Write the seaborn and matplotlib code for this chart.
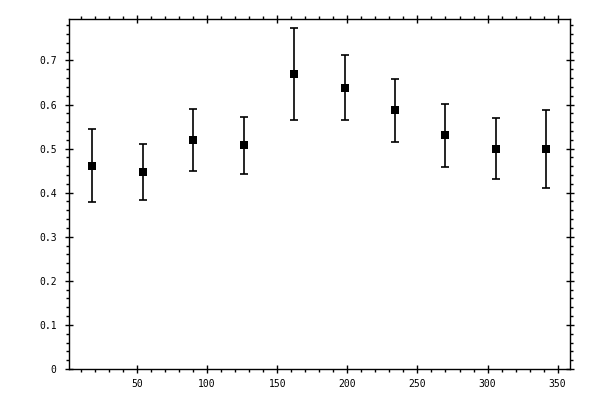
import numpy as np
import pandas as pd
import seaborn as sns
import matplotlib
matplotlib.use("Agg")
import matplotlib.pyplot as plt
from matplotlib.ticker import MultipleLocator, FuncFormatter

# degerler
x_vals = [18, 54, 90, 126, 162, 198, 234, 270, 306, 342]
y_vals = [0.461, 0.447, 0.519, 0.508, 0.669, 0.637, 0.587, 0.531, 0.499, 0.499]
y_low = [0.379, 0.383, 0.449, 0.442, 0.565, 0.565, 0.515, 0.458, 0.432, 0.411]
y_high = [0.545, 0.510, 0.590, 0.571, 0.773, 0.712, 0.659, 0.601, 0.569, 0.587]

df = pd.DataFrame({"x": x_vals, "y": y_vals, "lo": y_low, "hi": y_high})

sns.set_style("white")
plt.rcParams['font.family'] = ['DejaVu Sans Mono', 'DejaVu Sans']

fig = plt.figure(figsize=(6, 4), dpi=100)
ax = fig.add_axes([0.115, 0.0775, 0.835, 0.875])

yerr = np.array([df.y - df.lo, df.hi - df.y])
ax.errorbar(df.x, df.y, yerr=yerr, fmt='none', ecolor='black',
            elinewidth=1.2, capsize=2.8, capthick=1.2, zorder=2)
sns.scatterplot(x='x', y='y', data=df, marker='s', s=38, color='black',
                edgecolor='black', linewidth=0, ax=ax, zorder=3)

ax.set_xlim(1.5, 358.8)
ax.set_ylim(0, 0.794)
ax.set_xlabel("")
ax.set_ylabel("")

ax.xaxis.set_major_locator(MultipleLocator(50))
ax.xaxis.set_minor_locator(MultipleLocator(10))
ax.yaxis.set_major_locator(MultipleLocator(0.1))
ax.yaxis.set_minor_locator(MultipleLocator(0.02))
ax.yaxis.set_major_formatter(FuncFormatter(lambda v, p: "%g" % round(v, 2)))
ax.set_xticks([50, 100, 150, 200, 250, 300, 350])

for s in ax.spines.values():
    s.set_color('black')
    s.set_linewidth(1.0)

ax.tick_params(which='major', direction='inout', length=6, width=1.0,
               left=True, bottom=True, top=True, right=True,
               labelsize=7, pad=4, color='black', labelcolor='black')
ax.tick_params(which='minor', direction='out', length=2.5, width=1.0,
               left=True, bottom=True, top=True, right=True, color='black')
ax.tick_params(axis='y', which='major', pad=6)

fig.savefig("out.png", dpi=100, facecolor='white')
